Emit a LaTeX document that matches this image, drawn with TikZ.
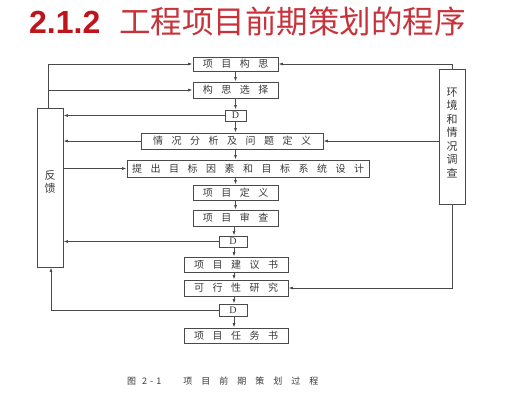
\documentclass[tikz,border=0pt]{standalone}
\usepackage{fontspec}
\setmainfont{Liberation Serif}
\newfontfamily\cjk{Noto Sans CJK SC}
\newfontfamily\arialb{Liberation Sans}
\usetikzlibrary{arrows.meta,calc}
\definecolor{ln}{HTML}{4A4A4A}
\definecolor{tx}{HTML}{3A3A3A}
\definecolor{ttlA}{HTML}{C0141C}
\definecolor{ttlB}{HTML}{C8323A}
\newcommand\gp{\hspace{8.5pt}}
\begin{document}
\begin{tikzpicture}[x=1pt,y=-1pt,
  bx/.style={draw=ln,line width=0.9pt,inner sep=0pt,font=\cjk\fontsize{10}{10}\selectfont,text=tx},
  arr/.style={draw=ln,line width=0.8pt,-{Latex[length=4.5pt,width=3pt]}},
  ln/.style={draw=ln,line width=0.8pt}]
\useasboundingbox[fill=white] (0,0) rectangle (518,400);
% title
\node[anchor=base west,inner sep=0pt,text=ttlA] (ttl) at (29,33) {\arialb\bfseries\fontsize{32}{34}\selectfont 2.1.2};
\node[anchor=base west,inner sep=0pt,text=ttlB] (ttl2) at (119,33) {\cjk\fontsize{31.5}{34}\selectfont 工程项目前期策划的程序};
% main chain
\node[bx,minimum width=85pt,minimum height=14pt] (n1) at (235.5,64) {项\gp 目\gp 构\gp 思};
\node[bx,minimum width=85pt,minimum height=16pt] (n2) at (235.5,90) {构\gp 思\gp 选\gp 择};
\node[bx,minimum width=21pt,minimum height=11pt,font=\fontsize{10}{10}\selectfont] (d1) at (235.5,115.5) {D};
\node[bx,minimum width=182pt,minimum height=16pt] (n3) at (232,141) {情\gp 况\gp 分\gp 析\gp 及\gp 问\gp 题\gp 定\gp 义};
\node[bx,minimum width=242pt,minimum height=17pt] (n4) at (248,168.5) {提\gp 出\gp 目\gp 标\gp 因\gp 素\gp 和\gp 目\gp 标\gp 系\gp 统\gp 设\gp 计};
\node[bx,minimum width=85pt,minimum height=15pt] (n5) at (235.5,192.5) {项\gp 目\gp 定\gp 义};
\node[bx,minimum width=85pt,minimum height=16pt] (n6) at (235.5,218) {项\gp 目\gp 审\gp 查};
\node[bx,minimum width=28pt,minimum height=11pt,font=\fontsize{10}{10}\selectfont] (d2) at (233,241.5) {D};
\node[bx,minimum width=104pt,minimum height=15pt] (n7) at (236,264.5) {项\gp 目\gp 建\gp 议\gp 书};
\node[bx,minimum width=104pt,minimum height=16pt] (n8) at (236,288) {可\gp 行\gp 性\gp 研\gp 究};
\node[bx,minimum width=28pt,minimum height=12pt,font=\fontsize{10}{10}\selectfont] (d3) at (233,310) {D};
\node[bx,minimum width=104pt,minimum height=15pt] (n9) at (236,335.5) {项\gp 目\gp 任\gp 务\gp 书};
% side boxes
\node[bx,minimum width=26pt,minimum height=159pt] (fb) at (50,187.5) {};
\node[inner sep=0pt,font=\cjk\fontsize{11}{13}\selectfont,text=tx,align=center] (fbt) at (50,182) {反\\馈};
\node[bx,minimum width=26pt,minimum height=135pt] (env) at (452,136.5) {};
\node[inner sep=0pt,font=\cjk\fontsize{11}{13.5}\selectfont,text=tx,align=center] (envt) at (452,132.5) {环\\境\\和\\情\\况\\调\\查};
% chain arrows
\coordinate (cx) at (235.5,0);
\coordinate (cy) at (234,0);
\draw[arr] (n1.south -| cx) -- (n2.north -| cx);
\draw[arr] (n2.south -| cx) -- (d1.north -| cx);
\draw[arr] (d1.south -| cx) -- (n3.north -| cx);
\draw[arr] (n3.south -| cx) -- (n4.north -| cx);
\draw[arr] (n4.south -| cx) -- (n5.north -| cx);
\draw[arr] (n5.south -| cx) -- (n6.north -| cx);
\draw[arr] (n6.south -| cy) -- (d2.north -| cy);
\draw[arr] (d2.south -| cy) -- (n7.north -| cy);
\draw[arr] (n7.south -| cy) -- (n8.north -| cy);
\draw[arr] (n8.south -| cy) -- (d3.north -| cy);
\draw[arr] (d3.south -| cy) -- (n9.north -| cy);
% feedback connectors
\coordinate (fx) at (48,0);
\coordinate (bx2) at (51,0);
\draw[arr] (fb.north -| fx) |- (n1.west);
\draw[arr] (fx |- n2.west) -- (n2.west);
\draw[arr] (d1.west) -- (fb.east |- d1.west);
\draw[arr] (n3.west) -- (fb.east |- n3.west);
\draw[arr] (fb.east |- n4.west) -- (n4.west);
\draw[arr] (d2.west) -- (fb.east |- d2.west);
\draw[arr] (d3.west) -| (fb.south -| bx2);
% environment connectors
\draw[arr] (env.north) |- (n1.east);
\draw[arr] (env.west |- n3.east) -- (n3.east);
\draw[arr] (env.south) |- (n8.east);
% caption
\node[anchor=west,inner sep=0pt,text=tx,font=\cjk\fontsize{9}{10}\selectfont] (cap) at (127,381) {图\hspace{6pt}2\hspace{3pt}-\hspace{3pt}1\hspace{22pt}项\hspace{9pt}目\hspace{9pt}前\hspace{9pt}期\hspace{9pt}策\hspace{9pt}划\hspace{9pt}过\hspace{9pt}程};
\end{tikzpicture}
\end{document}
